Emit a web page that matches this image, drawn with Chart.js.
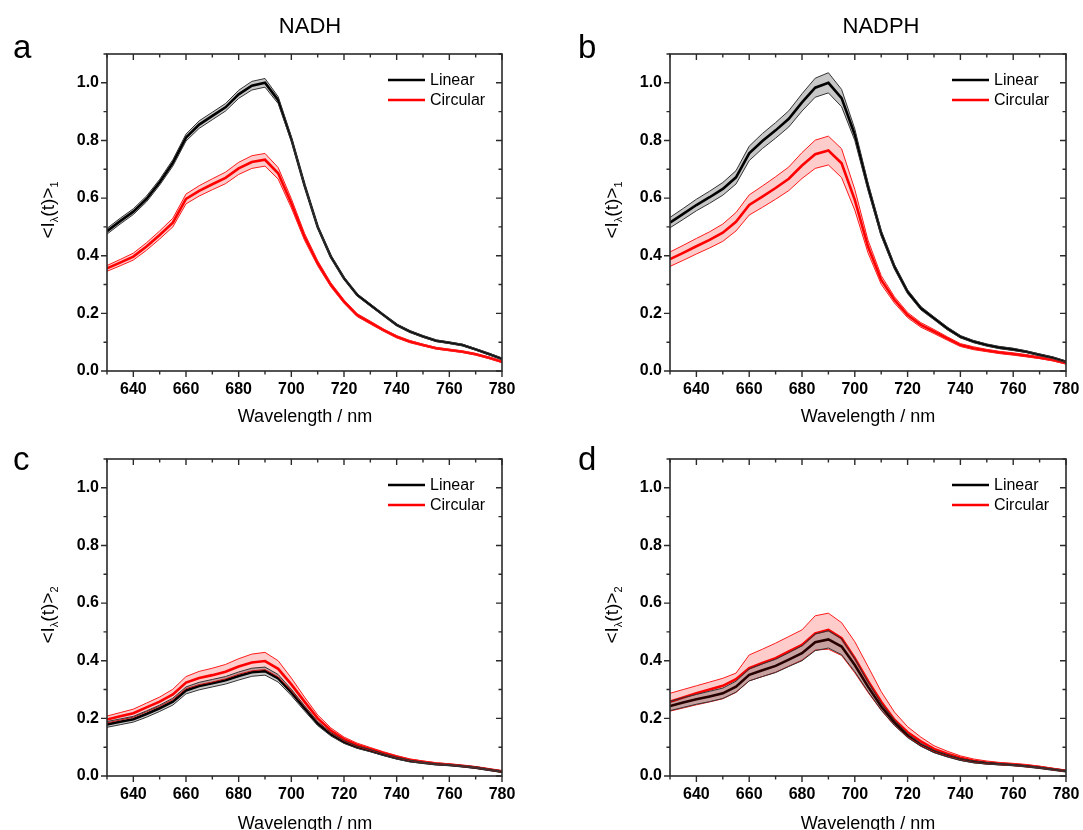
<!DOCTYPE html>
<html><head><meta charset="utf-8">
<script src="https://cdn.jsdelivr.net/npm/chart.js@4.4.0/dist/chart.umd.min.js"></script>
<style>
body{margin:0;background:#fff;width:1083px;height:830px;overflow:hidden;position:relative;font-family:"Liberation Sans",Arial,sans-serif;color:#000;}
canvas{position:absolute;}
.t{position:absolute;white-space:nowrap;line-height:1;}
.letter{font-size:33px;}
.title{font-size:22px;transform:translate(-50%,-50%);}
.xt{font-size:18px;transform:translate(-50%,-50%);}
.yt{font-size:19px;transform:translate(-50%,-50%) rotate(-90deg);}
.yt sub{font-size:11px;vertical-align:-4px;}
</style></head><body>
<canvas id="ca" width="541" height="410" style="left:0;top:0"></canvas>
<canvas id="cb" width="560" height="410" style="left:541px;top:0"></canvas>
<canvas id="cc" width="541" height="420" style="left:0;top:410px"></canvas>
<canvas id="cd" width="560" height="420" style="left:541px;top:410px"></canvas>

<div class="t letter" style="left:13px;top:30px">a</div>
<div class="t letter" style="left:578px;top:30px">b</div>
<div class="t letter" style="left:13px;top:442px">c</div>
<div class="t letter" style="left:578px;top:442px">d</div>
<div class="t title" style="left:310px;top:26px">NADH</div>
<div class="t title" style="left:881px;top:26px">NADPH</div>
<div class="t xt" style="left:305px;top:416px">Wavelength / nm</div>
<div class="t xt" style="left:868px;top:416px">Wavelength / nm</div>
<div class="t xt" style="left:305px;top:823px">Wavelength / nm</div>
<div class="t xt" style="left:868px;top:823px">Wavelength / nm</div>
<div class="t yt" style="left:49px;top:210px">&lt;I<sub>λ</sub>(t)&gt;<sub>1</sub></div>
<div class="t yt" style="left:613px;top:210px">&lt;I<sub>λ</sub>(t)&gt;<sub>1</sub></div>
<div class="t yt" style="left:49px;top:615px">&lt;I<sub>λ</sub>(t)&gt;<sub>2</sub></div>
<div class="t yt" style="left:613px;top:615px">&lt;I<sub>λ</sub>(t)&gt;<sub>2</sub></div>

<script>
// ---------- data ----------
const wavelengths = [630,635,640,645,650,655,660,665,670,675,680,685,690,695,700,705,710,715,720,725,730,735,740,745,750,755,760,765,770,775,780];
const seriesNames = ['Linear','Circular'];
const xTickLabels = [640,660,680,700,720,740,760,780];
const yTickLabels = [0.0,0.2,0.4,0.6,0.8,1.0];

// Panel a: NADH, <I>1
const aLin   = [0.485,0.520,0.553,0.597,0.655,0.722,0.810,0.855,0.885,0.915,0.960,0.990,1.000,0.940,0.805,0.645,0.500,0.397,0.322,0.264,0.229,0.194,0.160,0.137,0.120,0.105,0.098,0.090,0.075,0.059,0.042];
const aLinLo = [0.475,0.510,0.543,0.587,0.645,0.711,0.798,0.842,0.872,0.902,0.946,0.975,0.985,0.928,0.797,0.639,0.495,0.392,0.318,0.260,0.225,0.191,0.157,0.134,0.117,0.102,0.095,0.087,0.072,0.056,0.039];
const aLinHi = [0.495,0.530,0.563,0.607,0.665,0.733,0.822,0.868,0.898,0.928,0.974,1.005,1.015,0.952,0.813,0.651,0.505,0.402,0.326,0.268,0.233,0.197,0.163,0.140,0.123,0.108,0.101,0.093,0.078,0.062,0.045];
const aCir   = [0.356,0.376,0.397,0.432,0.472,0.515,0.597,0.625,0.648,0.670,0.703,0.725,0.733,0.686,0.582,0.466,0.374,0.299,0.241,0.194,0.168,0.142,0.119,0.102,0.090,0.079,0.073,0.067,0.058,0.046,0.032];
const aCirLo = [0.346,0.365,0.385,0.419,0.458,0.500,0.580,0.607,0.629,0.650,0.682,0.703,0.711,0.666,0.566,0.454,0.365,0.292,0.235,0.189,0.163,0.138,0.115,0.098,0.087,0.076,0.070,0.064,0.055,0.043,0.029];
const aCirHi = [0.366,0.387,0.409,0.445,0.486,0.530,0.614,0.643,0.667,0.690,0.724,0.747,0.755,0.706,0.598,0.478,0.383,0.306,0.247,0.199,0.173,0.146,0.123,0.106,0.093,0.082,0.076,0.070,0.061,0.049,0.035];

// Panel b: NADPH, <I>1
const bLin   = [0.515,0.545,0.576,0.603,0.632,0.672,0.755,0.798,0.835,0.875,0.932,0.983,1.000,0.947,0.820,0.640,0.478,0.362,0.275,0.218,0.183,0.148,0.119,0.102,0.090,0.081,0.075,0.067,0.056,0.046,0.032];
const bLinLo = [0.497,0.526,0.556,0.582,0.610,0.649,0.730,0.772,0.808,0.847,0.902,0.950,0.965,0.917,0.800,0.626,0.468,0.354,0.268,0.212,0.178,0.143,0.115,0.098,0.086,0.077,0.071,0.064,0.053,0.043,0.029];
const bLinHi = [0.533,0.564,0.596,0.624,0.654,0.695,0.780,0.824,0.862,0.903,0.962,1.016,1.035,0.977,0.840,0.654,0.488,0.370,0.282,0.224,0.188,0.153,0.123,0.106,0.094,0.085,0.079,0.070,0.059,0.049,0.035];
const bCir   = [0.388,0.410,0.433,0.455,0.480,0.518,0.576,0.605,0.635,0.667,0.713,0.752,0.765,0.721,0.594,0.432,0.316,0.247,0.194,0.160,0.137,0.113,0.090,0.079,0.071,0.064,0.059,0.053,0.046,0.038,0.027];
const bCirLo = [0.363,0.384,0.406,0.427,0.450,0.486,0.541,0.568,0.596,0.626,0.668,0.703,0.715,0.671,0.558,0.410,0.301,0.236,0.185,0.152,0.130,0.107,0.085,0.074,0.067,0.060,0.055,0.049,0.043,0.035,0.024];
const bCirHi = [0.413,0.436,0.460,0.483,0.510,0.550,0.611,0.642,0.674,0.708,0.758,0.801,0.815,0.771,0.630,0.454,0.331,0.258,0.203,0.168,0.144,0.119,0.095,0.084,0.075,0.068,0.063,0.057,0.049,0.041,0.030];

// Panel c: NADH, <I>2
const cLin   = [0.179,0.188,0.197,0.215,0.235,0.258,0.297,0.312,0.322,0.332,0.347,0.360,0.364,0.339,0.290,0.235,0.182,0.145,0.118,0.100,0.088,0.074,0.062,0.052,0.046,0.041,0.038,0.034,0.029,0.022,0.015];
const cLinLo = [0.169,0.178,0.187,0.204,0.224,0.246,0.285,0.299,0.309,0.319,0.333,0.346,0.350,0.326,0.279,0.226,0.175,0.139,0.113,0.096,0.084,0.071,0.059,0.049,0.044,0.039,0.036,0.032,0.027,0.020,0.013];
const cLinHi = [0.189,0.198,0.207,0.226,0.246,0.270,0.309,0.325,0.335,0.345,0.361,0.374,0.378,0.352,0.301,0.244,0.189,0.151,0.123,0.104,0.092,0.077,0.065,0.055,0.048,0.043,0.040,0.036,0.031,0.024,0.017];
const cCir   = [0.196,0.207,0.218,0.238,0.258,0.283,0.324,0.340,0.350,0.362,0.380,0.394,0.399,0.372,0.318,0.258,0.200,0.158,0.128,0.108,0.094,0.080,0.067,0.056,0.049,0.043,0.040,0.035,0.030,0.023,0.016];
const cCirLo = [0.184,0.194,0.204,0.223,0.242,0.265,0.303,0.317,0.326,0.337,0.353,0.365,0.369,0.344,0.296,0.242,0.188,0.149,0.121,0.102,0.089,0.076,0.063,0.053,0.046,0.040,0.038,0.033,0.028,0.021,0.014];
const cCirHi = [0.208,0.220,0.232,0.253,0.274,0.301,0.345,0.363,0.374,0.387,0.407,0.423,0.429,0.400,0.340,0.274,0.212,0.167,0.135,0.114,0.099,0.084,0.071,0.059,0.052,0.046,0.042,0.037,0.032,0.025,0.018];

// Panel d: NADPH, <I>2
const dLin   = [0.243,0.255,0.266,0.276,0.287,0.310,0.351,0.367,0.382,0.404,0.426,0.464,0.474,0.449,0.385,0.310,0.241,0.185,0.140,0.108,0.085,0.070,0.057,0.049,0.044,0.041,0.038,0.034,0.029,0.023,0.017];
const dLinLo = [0.227,0.238,0.249,0.258,0.269,0.291,0.330,0.345,0.359,0.380,0.400,0.435,0.444,0.421,0.362,0.293,0.229,0.176,0.133,0.103,0.081,0.066,0.054,0.046,0.041,0.039,0.036,0.032,0.027,0.021,0.015];
const dLinHi = [0.259,0.272,0.283,0.294,0.305,0.329,0.372,0.389,0.405,0.428,0.452,0.493,0.504,0.477,0.408,0.327,0.253,0.194,0.147,0.113,0.089,0.074,0.060,0.052,0.047,0.043,0.040,0.036,0.031,0.025,0.019];
const dCir   = [0.258,0.272,0.287,0.300,0.313,0.336,0.374,0.392,0.409,0.432,0.455,0.495,0.507,0.478,0.409,0.330,0.258,0.195,0.152,0.120,0.094,0.077,0.063,0.053,0.047,0.043,0.040,0.036,0.031,0.024,0.018];
const dCirLo = [0.225,0.236,0.247,0.257,0.268,0.290,0.330,0.345,0.360,0.381,0.402,0.437,0.440,0.418,0.358,0.290,0.228,0.175,0.136,0.107,0.084,0.069,0.056,0.047,0.042,0.039,0.036,0.032,0.028,0.021,0.015];
const dCirHi = [0.287,0.300,0.313,0.326,0.339,0.357,0.420,0.440,0.461,0.484,0.507,0.556,0.565,0.532,0.466,0.380,0.293,0.222,0.171,0.135,0.105,0.086,0.070,0.059,0.052,0.047,0.044,0.040,0.034,0.027,0.020];

// ---------- styles ----------
const LIN = {line:'#000000', edge:'#333333', fill:'rgba(0,0,0,0.22)'};
const CIR = {line:'#ff0000', edge:'#ff1a1a', fill:'rgba(255,0,0,0.2)'};
const FONT = '"Liberation Sans", Arial, sans-serif';
Chart.defaults.font.family = FONT;
Chart.defaults.color = '#000';

const pts = arr => wavelengths.map((w,i)=>({x:w,y:arr[i]}));

function datasets(lin, linLo, linHi, cir, cirLo, cirHi){
  const base = {pointRadius:0, pointHoverRadius:0, tension:0};
  return [
    {...base, label:'lo0', data:pts(linLo), borderColor:LIN.edge, borderWidth:1, fill:false},
    {...base, label:'hi0', data:pts(linHi), borderColor:LIN.edge, borderWidth:1, fill:'-1', backgroundColor:LIN.fill},
    {...base, label:'lo1', data:pts(cirLo), borderColor:CIR.edge, borderWidth:1, fill:false},
    {...base, label:'hi1', data:pts(cirHi), borderColor:CIR.edge, borderWidth:1, fill:'-1', backgroundColor:CIR.fill},
    {...base, label:seriesNames[0], data:pts(lin), borderColor:LIN.line, borderWidth:2.6, fill:false, legend:true},
    {...base, label:seriesNames[1], data:pts(cir), borderColor:CIR.line, borderWidth:2.6, fill:false, legend:true},
  ];
}

const framePlugin = {
  id:'frame',
  afterDraw(chart){
    const {ctx, chartArea:a, scales:{x,y}} = chart;
    ctx.save();
    ctx.strokeStyle = '#2a2a2a';
    ctx.lineWidth = 1.6;
    ctx.strokeRect(a.left, a.top, a.right-a.left, a.bottom-a.top);
    ctx.lineWidth = 1.4;
    ctx.beginPath();
    x.ticks.forEach(t=>{
      const px = x.getPixelForValue(t.value);
      const L = xTickLabels.includes(Math.round(t.value)) ? 6 : 3.5;
      ctx.moveTo(px, a.bottom); ctx.lineTo(px, a.bottom+L);
      ctx.moveTo(px, a.top); ctx.lineTo(px, a.top+L);
    });
    y.ticks.forEach(t=>{
      const py = y.getPixelForValue(t.value);
      const v = Math.round(t.value*10)/10;
      const L = yTickLabels.includes(v) ? 6 : 3.5;
      ctx.moveTo(a.left, py); ctx.lineTo(a.left-L, py);
      ctx.moveTo(a.right, py); ctx.lineTo(a.right-L, py);
    });
    ctx.stroke();
    // legend
    const items = chart.data.datasets.filter(d=>d.legend);
    ctx.font = '16px ' + FONT;
    ctx.textBaseline = 'middle';
    ctx.fillStyle = '#000';
    items.forEach((d,i)=>{
      const yy = a.top + 26 + i*20;
      ctx.strokeStyle = d.borderColor;
      ctx.lineWidth = 2.6;
      ctx.beginPath();
      ctx.moveTo(a.right-114, yy); ctx.lineTo(a.right-77, yy);
      ctx.stroke();
      ctx.fillText(d.label, a.right-72, yy+1);
    });
    ctx.restore();
  }
};

function makeChart(id, cx, cy, cw, ch, area, ds){
  const yW = 60, xH = 30;
  new Chart(document.getElementById(id), {
    type:'line',
    data:{datasets:ds},
    options:{
      responsive:false, animation:false, devicePixelRatio:1,
      layout:{padding:{left:area.l-cx-yW, right:cx+cw-area.r, top:area.t-cy, bottom:cy+ch-area.b-xH}},
      plugins:{legend:{display:false}, tooltip:{enabled:false}, filler:{propagate:false}},
      scales:{
        x:{type:'linear', min:630, max:780,
           grid:{display:false, drawTicks:false}, border:{display:false},
           afterFit:s=>{s.height=xH;},
           ticks:{stepSize:10, autoSkip:false, maxRotation:0, padding:9,
                  font:{size:16, weight:'bold'}, color:'#000',
                  callback:v=>xTickLabels.includes(Math.round(v)) ? String(Math.round(v)) : ''}},
        y:{type:'linear', min:0, max:1.1,
           grid:{display:false, drawTicks:false}, border:{display:false},
           afterFit:s=>{s.width=yW;},
           ticks:{stepSize:0.1, autoSkip:false, padding:8,
                  font:{size:16, weight:'bold'}, color:'#000',
                  callback:v=>{const r=Math.round(v*10)/10; return yTickLabels.includes(r) ? r.toFixed(1) : '';}}}
      }
    },
    plugins:[framePlugin]
  });
}

makeChart('ca', 0, 0, 541, 410, {l:107, r:502, t:54, b:371}, datasets(aLin,aLinLo,aLinHi,aCir,aCirLo,aCirHi));
makeChart('cb', 541, 0, 560, 410, {l:670, r:1066, t:54, b:371}, datasets(bLin,bLinLo,bLinHi,bCir,bCirLo,bCirHi));
makeChart('cc', 0, 410, 541, 420, {l:107, r:502, t:459, b:776}, datasets(cLin,cLinLo,cLinHi,cCir,cCirLo,cCirHi));
makeChart('cd', 541, 410, 560, 420, {l:670, r:1066, t:459, b:776}, datasets(dLin,dLinLo,dLinHi,dCir,dCirLo,dCirHi));
</script>
</body></html>
